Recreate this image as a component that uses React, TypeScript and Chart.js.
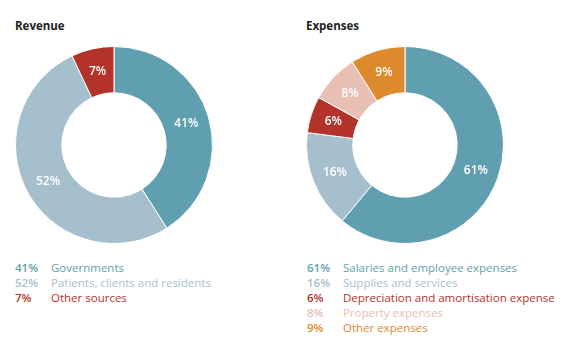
import React, { useEffect, useRef } from "react";
import { Chart, registerables } from "chart.js";

Chart.register(...registerables);

const revenueLabels = ["Governments", "Patients, clients and residents", "Other sources"];
const revenueValues = [41, 52, 7];
const revenueColors = ["#609fb0", "#a6bfcd", "#b3322a"];

const expenseLabels = [
  "Salaries and employee expenses",
  "Supplies and services",
  "Depreciation and amortisation expense",
  "Property expenses",
  "Other expenses",
];
const expenseValues = [61, 16, 6, 8, 9];
const expenseColors = ["#609fb0", "#a6bfcd", "#b3322a", "#e8c0b3", "#dd8a2c"];

const FONT = "'Open Sans', 'Noto Sans', sans-serif";

const pctLabelPlugin = {
  id: "pctLabels",
  afterDatasetsDraw(chart: any) {
    const ctx = chart.ctx;
    const meta = chart.getDatasetMeta(0);
    const data = chart.data.datasets[0].data;
    ctx.save();
    ctx.fillStyle = "#ffffff";
    ctx.font = `600 12px ${FONT}`;
    ctx.textAlign = "center";
    ctx.textBaseline = "middle";
    meta.data.forEach((arc: any, i: number) => {
      const p = arc.tooltipPosition();
      ctx.fillText(`${data[i]}%`, p.x, p.y);
    });
    ctx.restore();
  },
};

function Donut({ values, colors, left, top }: { values: number[]; colors: string[]; left: number; top: number }) {
  const ref = useRef<HTMLCanvasElement | null>(null);
  useEffect(() => {
    if (!ref.current) return;
    const chart = new Chart(ref.current, {
      type: "doughnut",
      data: {
        labels: values.map((v) => `${v}%`),
        datasets: [
          {
            data: values,
            backgroundColor: colors,
            borderColor: "#ffffff",
            borderWidth: 1,
            hoverOffset: 0,
          },
        ],
      },
      options: {
        responsive: false,
        animation: false,
        cutout: "53%",
        layout: { padding: 0 },
        plugins: { legend: { display: false }, tooltip: { enabled: false } },
        events: [],
      },
      plugins: [pctLabelPlugin],
    });
    return () => chart.destroy();
  }, []);
  return (
    <canvas
      ref={ref}
      width={198}
      height={198}
      style={{ position: "absolute", left, top, width: 198, height: 198 }}
    />
  );
}

function Legend({ labels, values, colors, left, top }: { labels: string[]; values: number[]; colors: string[]; left: number; top: number }) {
  return (
    <div style={{ position: "absolute", left, top, fontFamily: FONT, fontSize: 11.5 }}>
      {labels.map((l, i) => (
        <div key={l} style={{ height: 15, lineHeight: "15px", whiteSpace: "nowrap", position: "relative" }}>
          <span style={{ fontWeight: 600, color: colors[i], position: "absolute", left: 0 }}>{values[i]}%</span>
          <span style={{ color: colors[i], position: "absolute", left: 36 }}>{l}</span>
        </div>
      ))}
    </div>
  );
}

export default function App() {
  return (
    <div style={{ position: "fixed", left: 0, top: 0, width: 571, height: 349, background: "#fff", overflow: "hidden" }}>
      <div style={{ position: "absolute", left: 15, top: 18, fontFamily: FONT, fontWeight: 700, fontSize: 11.5, color: "#222" }}>Revenue</div>
      <div style={{ position: "absolute", left: 306, top: 18, fontFamily: FONT, fontWeight: 700, fontSize: 11.5, color: "#222" }}>Expenses</div>
      <Donut values={revenueValues} colors={revenueColors} left={15} top={46} />
      <Donut values={expenseValues} colors={expenseColors} left={306} top={46} />
      <Legend labels={revenueLabels} values={revenueValues} colors={revenueColors} left={15} top={260} />
      <Legend labels={expenseLabels} values={expenseValues} colors={expenseColors} left={307} top={260} />
    </div>
  );
}
